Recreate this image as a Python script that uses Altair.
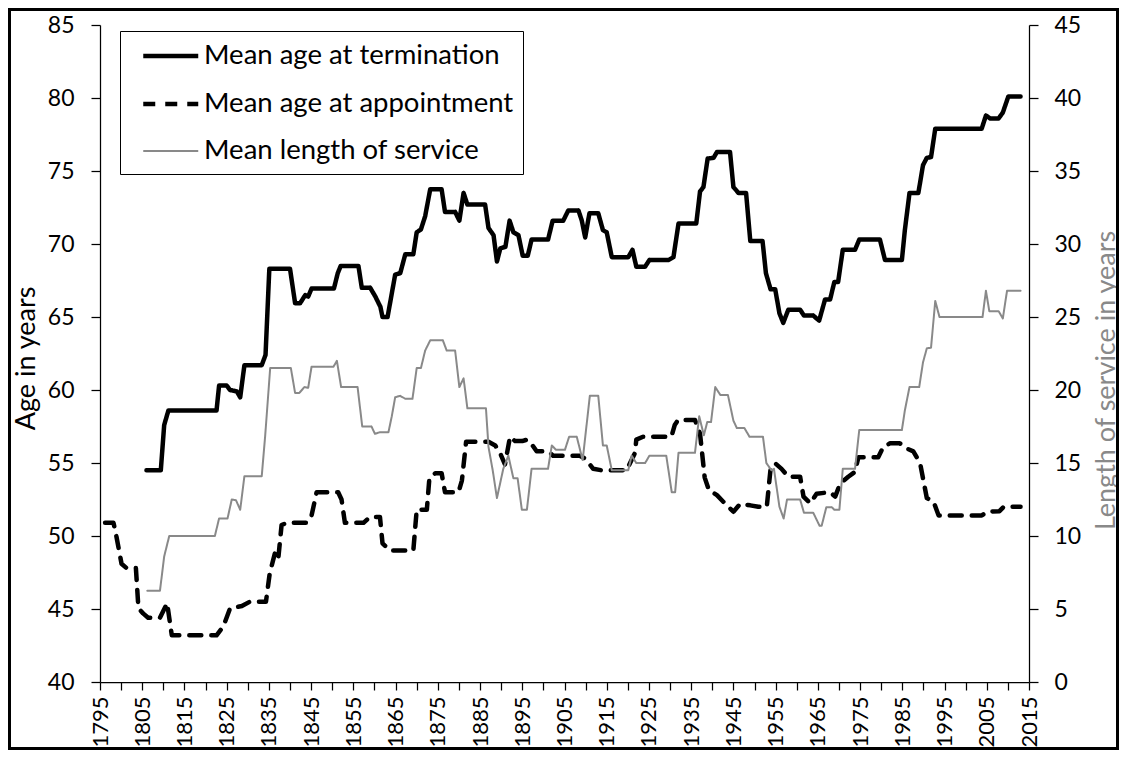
import altair as alt
import pandas as pd

SERIES = ["Mean age at termination", "Mean age at appointment", "Mean length of service"]

term_years = [1806.0, 1809.4, 1810.2, 1811.2, 1822.6, 1823.2, 1825.0, 1825.8, 1827.4, 1828.2,
              1829.2, 1833.3, 1834.2, 1835.1, 1840.0, 1841.2, 1842.4, 1843.6, 1844.3, 1845.1,
              1850.4, 1851.3, 1852.0, 1856.2, 1857.0, 1859.0, 1860.2, 1861.4, 1861.9, 1863.1,
              1864.9, 1866.1, 1867.3, 1869.2, 1870.0, 1871.0, 1872.0, 1873.2, 1875.9, 1876.7,
              1879.1, 1880.1, 1881.1, 1882.0, 1886.2, 1887.0, 1888.2, 1889.0, 1889.8, 1891.0,
              1892.0, 1892.9, 1894.1, 1895.1, 1896.3, 1897.2, 1901.1, 1902.2, 1904.7, 1905.9,
              1908.3, 1909.1, 1909.9, 1910.9, 1913.0, 1914.1, 1915.0, 1916.2, 1920.1, 1921.1,
              1922.0, 1924.1, 1925.1, 1929.6, 1930.8, 1932.0, 1936.2, 1937.1, 1937.9, 1938.9,
              1940.3, 1941.1, 1944.2, 1945.0, 1946.2, 1948.0, 1949.0, 1951.9, 1952.7, 1953.8,
              1954.9, 1955.9, 1956.8, 1958.0, 1960.8, 1961.7, 1963.9, 1965.3, 1966.7, 1967.9,
              1968.9, 1969.8, 1970.9, 1973.8, 1974.8, 1979.7, 1980.9, 1984.9, 1985.6, 1986.7,
              1988.8, 1989.9, 1990.8, 1991.8, 1992.8, 2003.8, 2004.8, 2005.8, 2007.8, 2008.8,
              2010.1, 2013.0]
term_values = [54.5, 54.5, 57.6, 58.6, 58.6, 60.3, 60.3, 60.0, 59.9, 59.5,
               61.7, 61.7, 62.4, 68.3, 68.3, 65.95, 65.95, 66.5, 66.4, 66.95,
               66.95, 68.0, 68.5, 68.5, 67.0, 67.0, 66.4, 65.7, 65.0, 65.0,
               67.9, 68.0, 69.3, 69.3, 70.8, 71.0, 71.9, 73.75, 73.75, 72.2,
               72.2, 71.6, 73.5, 72.7, 72.7, 71.1, 70.6, 68.8, 69.7, 69.8,
               71.6, 70.8, 70.6, 69.2, 69.2, 70.3, 70.3, 71.6, 71.6, 72.3,
               72.3, 71.6, 70.45, 72.1, 72.1, 70.95, 70.8, 69.1, 69.1, 69.6,
               68.45, 68.45, 68.9, 68.9, 69.1, 71.4, 71.4, 73.6, 73.9, 75.85,
               75.9, 76.3, 76.3, 73.9, 73.5, 73.5, 70.2, 70.2, 68.0, 66.9,
               66.9, 65.25, 64.6, 65.5, 65.5, 65.1, 65.1, 64.75, 66.2, 66.2,
               67.4, 67.4, 69.6, 69.6, 70.3, 70.3, 68.9, 68.9, 70.95, 73.5,
               73.5, 75.4, 75.9, 75.95, 77.9, 77.9, 78.8, 78.6, 78.6, 79.0,
               80.1, 80.1]

appt_years = [1796.2, 1798.2, 1798.9, 1800.1, 1801.3, 1803.5, 1804.1, 1805.2, 1806.4, 1809.2,
              1810.9, 1812.0, 1822.6, 1824.2, 1825.8, 1828.6, 1830.5, 1834.3, 1835.2, 1836.4,
              1837.2, 1838.0, 1839.2, 1843.9, 1845.1, 1846.3, 1851.4, 1852.2, 1853.0, 1857.4,
              1858.9, 1861.3, 1861.9, 1863.7, 1869.2, 1870.0, 1872.4, 1873.0, 1874.4, 1875.9,
              1876.7, 1879.9, 1880.7, 1881.7, 1887.0, 1888.6, 1889.8, 1890.9, 1892.1, 1893.3,
              1895.0, 1896.1, 1897.2, 1898.4, 1901.1, 1902.3, 1908.6, 1909.9, 1911.8, 1913.8,
              1919.7, 1921.7, 1922.0, 1923.6, 1930.3, 1931.1, 1931.9, 1935.9, 1937.1, 1938.2,
              1939.2, 1941.1, 1942.6, 1945.0, 1946.6, 1949.0, 1950.9, 1952.9, 1953.8, 1954.9,
              1956.4, 1958.0, 1960.8, 1961.6, 1963.2, 1964.7, 1967.9, 1969.1, 1970.3, 1972.2,
              1973.8, 1974.6, 1979.3, 1980.5, 1982.1, 1984.4, 1986.0, 1987.6, 1989.2, 1990.0,
              1990.8, 1992.4, 1993.6, 2003.8, 2005.0, 2008.0, 2009.0, 2013.0]
appt_values = [50.9, 50.9, 49.95, 48.1, 47.8, 47.8, 45.05, 44.7, 44.4, 44.4,
               45.4, 43.2, 43.2, 43.8, 45.05, 45.2, 45.5, 45.5, 47.45, 48.8,
               48.4, 50.75, 50.9, 50.9, 51.4, 53.0, 53.0, 52.5, 50.9, 50.9,
               51.3, 51.3, 49.5, 49.0, 49.0, 51.8, 51.8, 53.95, 54.3, 54.3,
               53.0, 53.0, 53.8, 56.45, 56.45, 56.2, 55.65, 54.9, 56.8, 56.5,
               56.5, 56.6, 56.3, 55.8, 55.8, 55.5, 55.5, 55.3, 54.6, 54.5,
               54.5, 55.7, 56.6, 56.8, 56.8, 57.6, 57.95, 57.95, 57.0, 54.0,
               53.15, 52.8, 52.35, 51.66, 52.2, 52.1, 52.0, 52.0, 54.6, 54.98,
               54.6, 54.06, 54.06, 52.7, 52.24, 52.9, 53.0, 52.7, 53.6, 54.06,
               54.4, 55.4, 55.4, 56.1, 56.35, 56.35, 56.0, 55.8, 55.0, 53.8,
               52.6, 52.35, 51.4, 51.4, 51.66, 51.7, 52.0, 52.0]

serv_years = [1806.2, 1809.2, 1810.2, 1811.4, 1822.2, 1823.2, 1825.2, 1826.2, 1827.2, 1828.2,
              1829.2, 1833.3, 1834.1, 1835.3, 1840.2, 1841.2, 1842.2, 1843.4, 1844.3, 1845.1,
              1850.3, 1851.1, 1852.1, 1856.0, 1857.1, 1859.3, 1860.1, 1861.2, 1863.3, 1864.1,
              1864.9, 1866.1, 1867.3, 1869.0, 1870.0, 1871.0, 1872.0, 1873.2, 1876.2, 1877.1,
              1879.1, 1880.1, 1881.1, 1882.0, 1886.4, 1887.0, 1888.0, 1889.0, 1889.9, 1890.5,
              1891.7, 1892.9, 1893.9, 1894.9, 1896.1, 1897.2, 1901.1, 1902.0, 1903.0, 1905.1,
              1906.1, 1907.9, 1909.3, 1911.0, 1913.0, 1914.1, 1915.0, 1916.2, 1920.1, 1920.9,
              1922.0, 1924.1, 1925.1, 1929.1, 1930.4, 1931.2, 1932.0, 1935.9, 1936.9, 1938.0,
              1938.8, 1939.7, 1940.7, 1941.9, 1943.7, 1945.0, 1945.8, 1947.6, 1948.8, 1952.0,
              1952.8, 1954.0, 1954.6, 1955.9, 1956.9, 1957.7, 1960.8, 1961.7, 1963.9, 1965.4,
              1965.9, 1967.0, 1968.3, 1968.9, 1970.1, 1970.9, 1973.8, 1974.8, 1984.9, 1985.6,
              1986.7, 1989.0, 1989.9, 1990.8, 1991.8, 1992.8, 1993.8, 2004.0, 2004.8, 2005.6,
              2007.8, 2008.8, 2009.8, 2013.0]
serv_values = [6.25, 6.25, 8.6, 10.0, 10.0, 11.2, 11.2, 12.5, 12.45, 11.8,
               14.1, 14.1, 16.8, 21.5, 21.5, 19.8, 19.8, 20.2, 20.15, 21.6,
               21.6, 22.0, 20.2, 20.2, 17.5, 17.5, 17.0, 17.1, 17.1, 18.2,
               19.5, 19.6, 19.4, 19.4, 21.5, 21.5, 22.7, 23.4, 23.4, 22.7,
               22.7, 20.2, 20.8, 18.75, 18.75, 16.1, 14.5, 12.6, 13.8, 14.6,
               15.5, 13.95, 13.95, 11.8, 11.8, 14.6, 14.6, 16.2, 15.9, 15.9,
               16.8, 16.8, 15.2, 19.6, 19.6, 16.2, 16.2, 14.5, 14.5, 15.5,
               15.0, 15.0, 15.5, 15.5, 13.0, 13.0, 15.7, 15.7, 18.2, 16.9,
               17.8, 17.8, 20.2, 19.66, 19.66, 17.9, 17.4, 17.4, 16.8, 16.8,
               15.0, 14.5, 14.6, 12.0, 11.2, 12.5, 12.5, 11.6, 11.6, 10.7,
               10.7, 11.97, 11.97, 11.8, 11.8, 14.6, 14.6, 17.26, 17.26, 18.6,
               20.2, 20.2, 21.9, 22.85, 22.9, 26.1, 25.0, 25.0, 26.8, 25.4,
               25.4, 24.9, 26.8, 26.8]

x_ticks = list(range(1795, 2016, 5))
left_ticks = list(range(40, 86, 5))
right_ticks = list(range(0, 46, 5))

GRAY = "#898989"
FONT = "Lato"

age_df = pd.concat([
    pd.DataFrame({"year": term_years, "value": term_values, "series": SERIES[0]}),
    pd.DataFrame({"year": appt_years, "value": appt_values, "series": SERIES[1]}),
], ignore_index=True)
serv_df = pd.DataFrame({"year": serv_years, "value": serv_values, "series": SERIES[2]})

color_scale = alt.Scale(domain=SERIES, range=["#000000", "#000000", GRAY])
dash_scale = alt.Scale(domain=SERIES, range=[[1, 0], [12, 10], [1, 0]])
width_scale = alt.Scale(type="ordinal", domain=SERIES, range=[4.5, 4.5, 2])

# legend sample: a horizontal stroke drawn to the right of the symbol anchor
legend = alt.Legend(
    title=None, orient="none", legendX=20, legendY=6,
    symbolType="M-1,0H3", symbolSize=756, symbolOffset=12, labelOffset=31,
    padding=9, rowPadding=18, strokeColor="#000000", fillColor="#ffffff",
    labelFont=FONT, labelFontSize=27.5, labelColor="#000000", labelLimit=600,
)

x_enc = alt.X(
    "year:Q",
    scale=alt.Scale(domain=[1795, 2015], nice=False, zero=False),
    axis=alt.Axis(
        values=x_ticks,
        labelExpr="(datum.value - 1795) % 10 == 0 ? datum.value : ''",
        labelAngle=270, labelFontSize=22, labelPadding=6, tickSize=8,
        labelOverlap=False, labelFlush=False, title=None,
    ),
)

common = dict(
    color=alt.Color("series:N", scale=color_scale, legend=legend),
    strokeDash=alt.StrokeDash("series:N", scale=dash_scale, legend=legend),
    strokeWidth=alt.StrokeWidth("series:N", scale=width_scale, legend=legend),
)

age_layer = alt.Chart(age_df).mark_line(strokeCap="round", strokeJoin="round").encode(
    x=x_enc,
    y=alt.Y(
        "value:Q",
        scale=alt.Scale(domain=[40, 85], nice=False, zero=False),
        axis=alt.Axis(
            orient="left", values=left_ticks, title="Age in years",
            titleAngle=270, titleX=-74, titleY=333, titleAlign="center",
            titleBaseline="middle", titleFontSize=27, labelFontSize=23,
            labelPadding=17, tickSize=9, labelFlush=False,
        ),
    ),
    **common,
)

serv_layer = alt.Chart(serv_df).mark_line(strokeCap="round", strokeJoin="round").encode(
    x=x_enc,
    y=alt.Y(
        "value:Q",
        scale=alt.Scale(domain=[0, 45], nice=False, zero=True),
        axis=alt.Axis(
            orient="right", values=right_ticks, title="Length of service in years",
            titleColor=GRAY, titleAngle=270, titleX=77, titleY=355,
            titleAlign="center", titleBaseline="middle", titleFontSize=27,
            labelFontSize=23, labelPadding=16, tickSize=9, labelFlush=False,
        ),
    ),
    **common,
)

border = alt.Chart(pd.DataFrame({"a": [0]})).mark_rect(
    fill="transparent", stroke="#000000", strokeWidth=3
).encode(
    x=alt.value(-90.5), x2=alt.value(1017.5),
    y=alt.value(-15.5), y2=alt.value(723.5),
)

chart = alt.layer(age_layer, serv_layer, border).resolve_scale(
    y="independent"
).properties(
    width=929, height=657,
    autosize=alt.AutoSizeParams(type="none"),
    padding={"left": 92, "top": 17, "right": 90, "bottom": 68},
).configure_axis(
    grid=False, domainColor="#000000", domainWidth=1.25, tickColor="#000000",
    tickWidth=1.25, labelColor="#000000", labelFont=FONT, titleFont=FONT,
    titleFontWeight="normal", titleColor="#000000",
).configure_view(strokeWidth=0)

chart.save("out.html", embed_options={"renderer": "svg", "actions": False})
